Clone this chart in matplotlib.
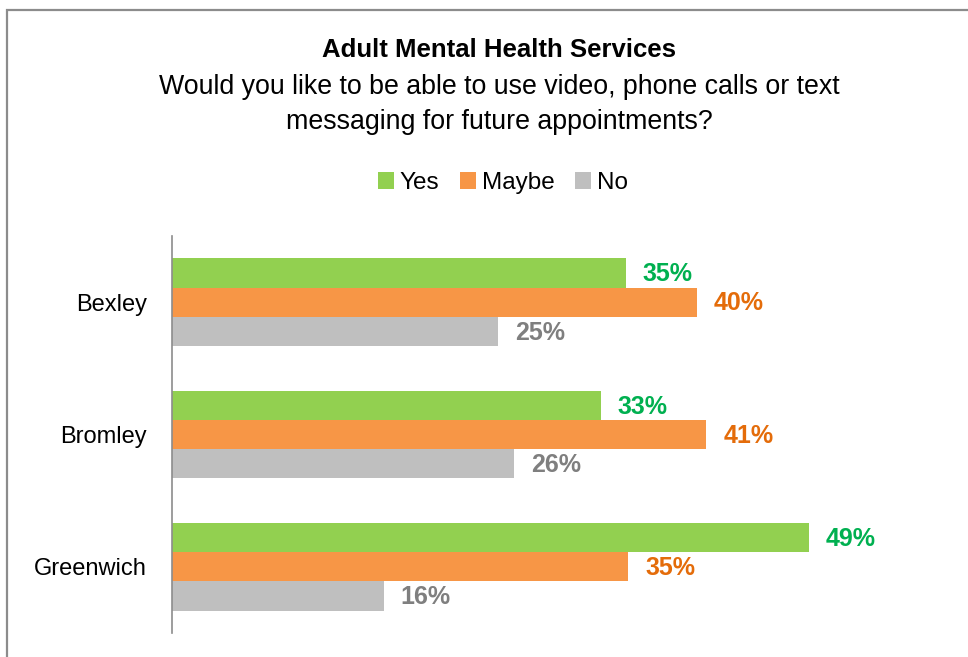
import matplotlib.pyplot as plt
from matplotlib.patches import Rectangle
import numpy as np

plt.rcParams['font.family'] = ['Liberation Sans', 'DejaVu Sans']

boroughs = ['Bexley', 'Bromley', 'Greenwich']
yes = [34.9, 33.0, 49.0]
maybe = [40.4, 41.1, 35.1]
no = [25.1, 26.3, 16.3]
yes_labels = ['35%', '33%', '49%']
maybe_labels = ['40%', '41%', '35%']
no_labels = ['25%', '26%', '16%']

W, H = 968, 657
fig = plt.figure(figsize=(W / 100, H / 100), dpi=100)

# outer frame of the chart area
fig.patches.append(Rectangle((6.5 / W, -0.1), 1.2, (H - 10) / H + 0.1,
                             transform=fig.transFigure, fill=False,
                             edgecolor='#8c8c8c', linewidth=1.6))

ax = fig.add_axes([172 / W, (H - 633) / H, 780 / W, 397 / H])

y = np.arange(len(boroughs))
h = 0.22
series = [
    (yes, yes_labels, -h, '#92D050', '#00B050', 'Yes'),
    (maybe, maybe_labels, 0, '#F79646', '#E46C0A', 'Maybe'),
    (no, no_labels, h, '#BFBFBF', '#7F7F7F', 'No'),
]
for vals, labs, off, col, tcol, name in series:
    ax.barh(y + off, vals, height=h, color=col, label=name)
    for yi, v, lab in zip(y, vals, labs):
        ax.text(v + 1.3, yi + off + 0.01, lab, va='center', ha='left',
                fontsize=18, fontweight='bold', color=tcol)

ax.set_xlim(0, 60)
ax.set_ylim(2.5, -0.5)
ax.set_yticks(y)
ax.set_yticklabels(boroughs, fontsize=17)
ax.tick_params(axis='y', length=0, pad=18)
ax.set_xticks([])
for s in ['top', 'right', 'bottom']:
    ax.spines[s].set_visible(False)
ax.spines['left'].set_color('#8c8c8c')
ax.spines['left'].set_linewidth(1.2)

fig.text(499 / W, 1 - 50 / H, 'Adult Mental Health Services', ha='center',
         va='center', fontsize=18.5, fontweight='bold')
fig.text(499 / W, 1 - 87 / H, 'Would you like to be able to use video, phone calls or text',
         ha='center', va='center', fontsize=19.3)
fig.text(499 / W, 1 - 122 / H, 'messaging for future appointments?',
         ha='center', va='center', fontsize=19.3)

fig.legend(loc='center', bbox_to_anchor=(503 / W, 1 - 183 / H), ncol=3,
           frameon=False, fontsize=17.5, handlelength=0.65, handleheight=0.65,
           handletextpad=0.25, columnspacing=0.85)

fig.savefig('out.png', dpi=100)
